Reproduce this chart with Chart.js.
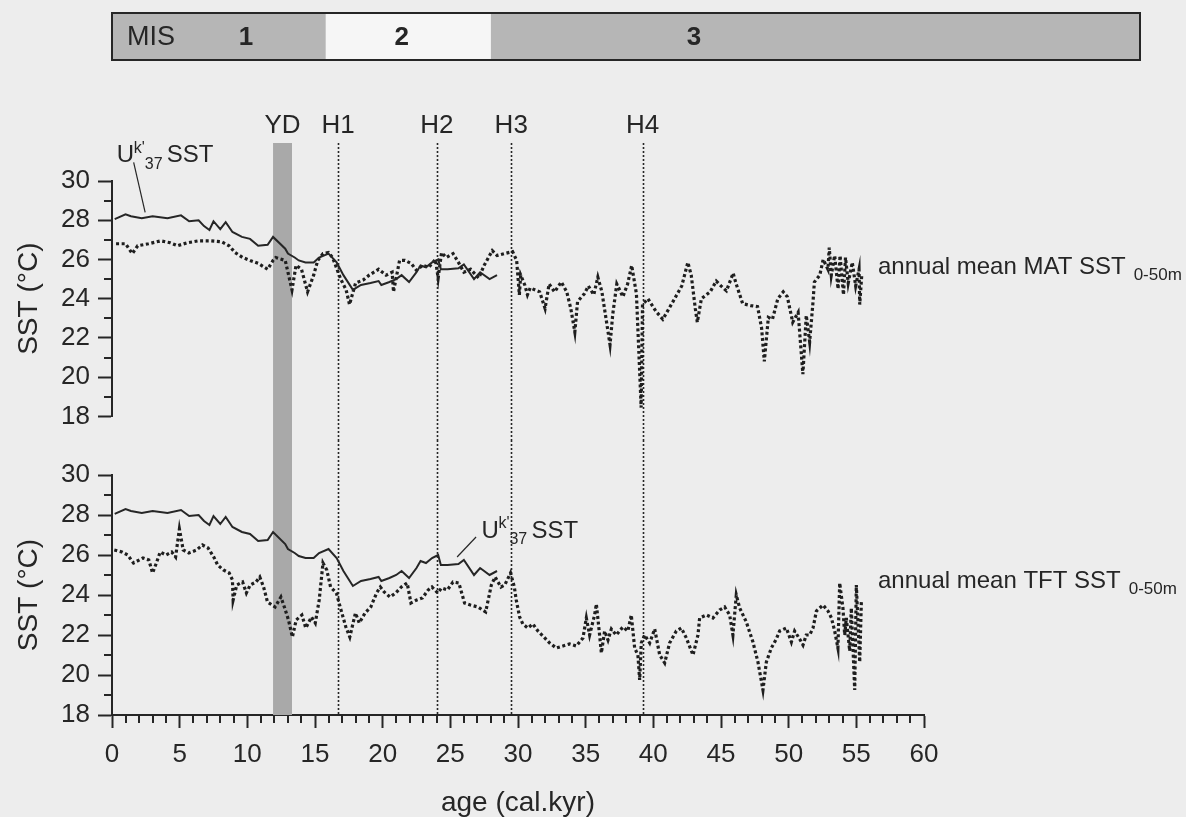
<!DOCTYPE html>
<html>
<head>
<meta charset="utf-8">
<script src="https://cdn.jsdelivr.net/npm/chart.js@4.4.1/dist/chart.umd.min.js"></script>
<style>
  body { margin: 0; background: #ededed; }
  #wrap { position: relative; width: 1186px; height: 817px; background: #ededed; }
  #top { position: absolute; left: 0; top: 0; }
  #bot { position: absolute; left: 0; top: 440px; }
</style>
</head>
<body>
<div id="wrap">
  <canvas id="top" width="1186" height="440"></canvas>
  <canvas id="bot" width="1186" height="377"></canvas>
</div>
<script>
// Uk'37 SST (solid, same record in both panels)
const ukAge = [0.2, 1.0, 1.4, 2.2, 3.0, 4.1, 5.1, 5.7, 6.4, 6.8, 7.2, 7.5, 8.0, 8.4, 8.9, 9.6, 10.2, 10.8, 11.5, 11.9,
  12.8, 13.0, 13.5, 13.8, 14.3, 14.9, 15.3, 16.0, 16.6, 17.1, 17.8, 18.4, 19.1, 19.7, 19.9, 20.5, 21.0, 21.4, 21.95,
  22.5, 22.8, 23.2, 23.65, 24.1, 24.3, 24.8, 25.6, 26.0, 26.75, 27.2, 27.9, 28.45];
const ukSst = [28.06, 28.3, 28.2, 28.1, 28.2, 28.1, 28.25, 27.95, 28.0, 27.7, 27.5, 27.95, 27.55, 27.9, 27.4, 27.15, 27.05, 26.7, 26.75, 27.15,
  26.55, 26.3, 26.1, 25.95, 25.85, 25.85, 26.1, 26.3, 25.85, 25.2, 24.45, 24.7, 24.8, 24.9, 24.7, 24.85, 25.0, 25.2, 24.85,
  25.35, 25.7, 25.6, 25.85, 26.0, 25.5, 25.5, 25.55, 25.75, 25.0, 25.35, 25.0, 25.2];

// annual mean MAT SST 0-50m (dotted, top panel)
const matAge = [0.3, 1.0, 1.5, 1.9, 2.7, 3.6, 4.3, 4.85, 5.55, 6.4, 7.25, 8.1, 8.65, 9.1, 9.65, 10.2, 10.8, 11.5, 11.9, 12.1,
  12.8, 13.0, 13.3, 13.6, 14.0, 14.45, 14.9, 15.2, 15.6, 16.0, 16.3, 16.9, 17.3, 17.55, 18.0, 18.55, 19.0, 19.7, 20.25, 20.7,
  20.8, 21.25, 21.65, 22.1, 22.5, 22.95, 23.4, 23.9, 24.1, 24.35, 24.7, 25.2, 25.6, 26.0, 26.5, 27.1, 27.5, 28.1, 28.45, 29.0,
  29.6, 29.9, 30.1, 30.2, 30.5, 30.7, 30.9, 31.6, 32.0, 32.3, 32.7, 33.2, 33.6, 33.9, 34.2, 34.4, 34.9, 35.2, 35.6, 35.9,
  36.2, 36.8, 37.0, 37.3, 37.75, 38.1, 38.4, 38.75, 39.1, 39.2, 39.6, 40.2, 40.7, 41.45, 42.1, 42.55, 42.8, 43.1, 43.25, 43.55,
  44.2, 44.65, 45.0, 45.4, 45.9, 46.1, 46.6, 47.2, 47.7, 48.0, 48.2, 48.5, 48.8, 49.2, 49.6, 49.9, 50.3, 50.7, 51.05, 51.3,
  51.55, 51.8, 51.9, 52.3, 52.55, 52.9, 53.0, 53.15, 53.4, 53.65, 53.8, 54.05, 54.2, 54.4, 54.7, 54.95, 55.2, 55.25, 55.4];
const matSst = [26.8, 26.8, 26.3, 26.7, 26.8, 26.95, 26.85, 26.7, 26.85, 26.95, 26.95, 26.9, 26.7, 26.35, 26.1, 25.95, 25.8, 25.5, 25.95, 26.1,
  25.95, 25.35, 24.45, 25.7, 25.5, 24.35, 25.2, 25.95, 26.3, 26.35, 26.1, 25.0, 24.45, 23.7, 24.8, 24.95, 25.2, 25.5, 25.2, 25.35,
  24.35, 25.95, 25.95, 25.8, 25.45, 25.7, 25.6, 26.0, 25.05, 26.35, 26.1, 26.3, 25.85, 25.35, 25.5, 25.05, 25.7, 26.45, 26.2, 26.3,
  26.4, 25.95, 24.2, 25.2, 24.7, 24.2, 24.55, 24.35, 23.5, 24.75, 24.35, 24.85, 24.35, 23.5, 22.3, 23.85, 24.25, 24.65, 24.2, 25.1,
  24.35, 21.65, 23.2, 24.75, 24.1, 24.75, 25.7, 24.25, 18.45, 23.7, 24.0, 23.35, 22.95, 23.85, 24.65, 25.85, 25.2, 23.5, 22.8, 24.0,
  24.35, 24.9, 24.65, 24.4, 25.3, 24.8, 23.75, 23.65, 23.6, 22.5, 20.8, 23.05, 22.95, 24.0, 24.35, 24.1, 22.8, 23.3, 20.15, 23.15,
  21.8, 23.85, 24.85, 25.2, 26.0, 25.5, 26.6, 25.2, 26.2, 24.5, 26.2, 24.2, 26.1, 24.8, 25.85, 24.65, 25.5, 23.7, 25.2];

// annual mean TFT SST 0-50m (dotted, bottom panel)
const tftAge = [0.17, 0.74, 1.16, 1.59, 2.29, 2.72, 3.0, 3.28, 3.56, 3.99, 4.41, 4.7, 4.98, 5.26, 5.68, 6.25, 6.68, 7.1, 7.52, 7.81,
  8.23, 8.66, 8.9, 8.95, 9.22, 9.65, 9.93, 10.21, 10.64, 10.92, 11.2, 11.49, 12.05, 12.48, 12.76, 13.04, 13.33, 13.61, 14.03, 14.32,
  14.74, 15.02, 15.31, 15.59, 15.87, 16.15, 16.58, 16.86, 17.28, 17.57, 17.99, 18.27, 18.7, 19.12, 19.55, 19.83, 20.11, 20.54, 20.96, 21.38,
  21.81, 22.09, 22.51, 22.94, 23.36, 23.64, 24.07, 24.35, 24.78, 25.2, 25.63, 26.05, 26.48, 27.04, 27.61, 28.03, 28.31, 28.74, 29.02, 29.45,
  29.73, 29.87, 30.12, 30.36, 30.73, 31.1, 31.47, 31.84, 32.34, 32.83, 33.32, 33.81, 34.31, 34.8, 35.05, 35.29, 35.66, 35.79, 36.03, 36.16,
  36.4, 36.65, 36.9, 37.26, 37.75, 38.12, 38.37, 38.62, 38.86, 38.99, 39.11, 39.36, 39.73, 40.1, 40.47, 40.84, 41.2, 41.7, 42.07, 42.44,
  42.93, 43.3, 43.42, 43.92, 44.4, 44.9, 45.27, 45.64, 45.88, 46.13, 46.38, 46.87, 47.36, 47.73, 48.1, 48.35, 48.72, 49.09, 49.33, 49.83,
  50.2, 50.44, 50.81, 51.06, 51.3, 51.55, 51.8, 52.05, 52.54, 52.91, 53.16, 53.4, 53.64, 53.77, 54.01, 54.14, 54.26, 54.51, 54.63, 54.88,
  55.0, 55.25, 55.37];
const tftSst = [26.25, 26.15, 26.0, 25.6, 25.85, 25.75, 25.1, 25.6, 26.15, 26.0, 26.15, 25.9, 27.3, 26.25, 26.1, 26.25, 26.5, 26.35, 25.9, 25.5,
  25.25, 25.1, 24.75, 23.75, 24.5, 24.65, 24.1, 24.5, 24.65, 24.9, 24.4, 23.65, 23.4, 23.9, 23.35, 22.75, 21.9, 22.75, 23.0, 22.35,
  22.9, 22.6, 23.75, 25.6, 25.25, 24.4, 24.1, 23.4, 22.4, 21.9, 23.1, 22.6, 23.1, 23.4, 24.1, 24.4, 24.15, 23.9, 24.1, 24.4,
  24.6, 23.6, 23.75, 23.85, 24.25, 24.4, 24.1, 24.35, 24.25, 24.65, 24.6, 23.6, 23.5, 23.4, 23.15, 24.5, 24.9, 24.4, 24.5, 25.1,
  24.4, 23.75, 22.9, 22.55, 22.35, 22.55, 22.2, 21.95, 21.6, 21.35, 21.45, 21.55, 21.45, 21.85, 22.85, 22.0, 23.0, 23.55, 22.0, 21.1,
  22.2, 21.75, 22.3, 22.0, 22.4, 22.2, 23.0, 21.35, 21.0, 19.75, 21.6, 22.0, 21.6, 22.3, 21.0, 20.6, 21.6, 22.2, 22.35, 21.85,
  21.0, 22.0, 22.85, 23.0, 22.85, 23.25, 23.4, 23.0, 22.0, 24.0, 23.35, 22.65, 21.65, 20.65, 19.25, 20.65, 21.35, 21.8, 22.2, 22.35,
  21.65, 22.2, 21.8, 21.5, 22.0, 22.0, 22.35, 23.2, 23.5, 23.2, 22.85, 22.2, 21.35, 24.6, 23.35, 22.0, 22.85, 21.2, 23.35, 19.25,
  24.5, 20.65, 23.65];

// axis ticks
const ageTicks = [0, 5, 10, 15, 20, 25, 30, 35, 40, 45, 50, 55, 60];
const sstTicks = [18, 20, 22, 24, 26, 28, 30];

// events and marine isotope stages (ages in kyr)
const eventNames = ['YD', 'H1', 'H2', 'H3', 'H4'];
const eventAges = [12.6, 16.7, 24.0, 29.5, 39.2];
const ydSpan = [11.9, 13.3];
const misNames = ['1', '2', '3'];
const misEdges = [0, 15.8, 28.0];
const misLabelAges = [9.9, 21.4, 43.0];

const FONT = "'Liberation Sans', Arial, Helvetica, sans-serif";
const INK = '#262626';
const BAR_RIGHT = 1140; // the stage bar runs on past the plot, over the series labels

const pts = (xs, ys) => xs.map((a, i) => ({x: a, y: ys[i]}));

function drawUk(ctx, x, y) {
  ctx.fillStyle = INK;
  ctx.textAlign = 'left';
  ctx.textBaseline = 'middle';
  ctx.font = '24px ' + FONT;
  ctx.fillText('U', x, y);
  ctx.font = '16px ' + FONT;
  ctx.fillText("k'", x + 17, y - 7);
  ctx.fillText('37', x + 28, y + 9);
  ctx.font = '24px ' + FONT;
  ctx.fillText('SST', x + 50, y);
}

function drawSeriesLabel(ctx, x, y, text) {
  ctx.fillStyle = INK;
  ctx.textAlign = 'left';
  ctx.textBaseline = 'middle';
  ctx.font = '24px ' + FONT;
  ctx.fillText(text, x, y);
  const w = ctx.measureText(text).width;
  ctx.font = '17px ' + FONT;
  ctx.fillText('0-50m', x + w + 8, y + 8);
}

// minor ticks every 1 unit (major ones come from chart.js)
const minorTicks = {
  id: 'minorTicks',
  afterDraw(chart) {
    const ctx = chart.ctx, y = chart.scales.y, x = chart.scales.x;
    ctx.save();
    ctx.strokeStyle = INK;
    ctx.lineWidth = 2;
    for (let v = y.min + 1; v < y.max; v += 2) {
      const p = Math.round(y.getPixelForValue(v));
      ctx.beginPath(); ctx.moveTo(y.right, p); ctx.lineTo(y.right - 8, p); ctx.stroke();
    }
    if (x.options.display) {
      for (let v = x.min + 1; v < x.max; v++) {
        if (v % 5 === 0) continue;
        const p = Math.round(x.getPixelForValue(v));
        ctx.beginPath(); ctx.moveTo(p, x.top); ctx.lineTo(p, x.top + 8); ctx.stroke();
      }
    }
    ctx.restore();
  }
};

// YD band, Heinrich lines, MIS bar and text labels
const marks = {
  id: 'marks',
  beforeDatasetsDraw(chart, args, o) {
    const {ctx, chartArea} = chart;
    const x = chart.scales.x;
    const y0 = o.lineTop;
    const y1 = o.toAxis ? chartArea.bottom : chart.height;
    ctx.save();
    const a = x.getPixelForValue(ydSpan[0]), b = x.getPixelForValue(ydSpan[1]);
    ctx.fillStyle = '#a9a9a9';
    ctx.fillRect(a, y0, b - a, y1 - y0);
    ctx.strokeStyle = INK;
    ctx.lineWidth = 1.6;
    ctx.setLineDash([2, 2]);
    eventAges.slice(1).forEach(age => {
      const p = Math.round(x.getPixelForValue(age)) + 0.5;
      ctx.beginPath(); ctx.moveTo(p, y0); ctx.lineTo(p, y1); ctx.stroke();
    });
    ctx.restore();
  },
  afterDraw(chart, args, o) {
    const ctx = chart.ctx;
    const x = chart.scales.x, y = chart.scales.y;
    ctx.save();
    if (o.header) {
      // MIS bar
      const top = 13, h = 47;
      const edges = misEdges.map(v => x.getPixelForValue(v)).concat(BAR_RIGHT);
      misNames.forEach((n, i) => {
        ctx.fillStyle = i === 1 ? '#f6f6f6' : '#b6b6b6';
        ctx.fillRect(edges[i], top, edges[i + 1] - edges[i], h);
      });
      ctx.strokeStyle = INK;
      ctx.lineWidth = 2;
      ctx.strokeRect(edges[0], top, BAR_RIGHT - edges[0], h);
      ctx.fillStyle = INK;
      ctx.textBaseline = 'middle';
      ctx.textAlign = 'left';
      ctx.font = '27px ' + FONT;
      ctx.fillText('MIS', edges[0] + 15, top + h / 2 + 1);
      ctx.textAlign = 'center';
      ctx.font = 'bold 26px ' + FONT;
      misNames.forEach((n, i) => ctx.fillText(n, x.getPixelForValue(misLabelAges[i]), top + h / 2 + 1));
      // event labels
      ctx.font = '26px ' + FONT;
      eventNames.forEach((n, i) => ctx.fillText(n, x.getPixelForValue(eventAges[i]), 126));
    }
    // Uk'37 label and leader line
    const L = o.uk;
    ctx.strokeStyle = INK;
    ctx.lineWidth = 1.2;
    ctx.beginPath();
    ctx.moveTo(x.getPixelForValue(L.from[0]), y.getPixelForValue(L.from[1]));
    ctx.lineTo(x.getPixelForValue(L.to[0]), y.getPixelForValue(L.to[1]));
    ctx.stroke();
    drawUk(ctx, x.getPixelForValue(L.at[0]), y.getPixelForValue(L.at[1]));
    drawSeriesLabel(ctx, x.getPixelForValue(o.name.at[0]), y.getPixelForValue(o.name.at[1]), o.name.text);
    ctx.restore();
  }
};

function yScale() {
  return {
    min: 18, max: 30,
    afterFit(s) { s.width = 112; },
    afterBuildTicks(s) { s.ticks = sstTicks.map(v => ({value: v})); },
    ticks: {color: INK, font: {family: FONT, size: 26}, padding: 8},
    grid: {drawOnChartArea: false, tickLength: 14, tickWidth: 2, tickColor: INK},
    border: {width: 2, color: INK},
    title: {display: true, text: 'SST (°C)', color: INK, font: {family: FONT, size: 28}, padding: {top: 12}}
  };
}

function lineSets(dotted) {
  return [
    {data: pts(ukAge, ukSst), borderColor: INK, borderWidth: 2, pointRadius: 0, tension: 0},
    {data: dotted, borderColor: '#1e1e1e', borderWidth: 3.2, borderDash: [3, 2.6], borderCapStyle: 'butt',
      pointRadius: 0, tension: 0}
  ];
}

new Chart(document.getElementById('top'), {
  type: 'line',
  data: {datasets: lineSets(pts(matAge, matSst))},
  options: {
    responsive: false, animation: false,
    layout: {padding: {left: 0, right: 262, top: 181, bottom: 23}},
    plugins: {
      legend: {display: false}, tooltip: {enabled: false},
      marks: {
        header: true, lineTop: 143, toAxis: false,
        uk: {at: [0.35, 31.3], from: [1.6, 30.95], to: [2.45, 28.4]},
        name: {at: [56.6, 25.6], text: 'annual mean MAT SST'}
      }
    },
    scales: {
      x: {type: 'linear', min: 0, max: 60, display: false},
      y: yScale()
    }
  },
  plugins: [marks, minorTicks]
});

new Chart(document.getElementById('bot'), {
  type: 'line',
  data: {datasets: lineSets(pts(tftAge, tftSst))},
  options: {
    responsive: false, animation: false,
    layout: {padding: {left: 0, right: 262, top: 35, bottom: 0}},
    plugins: {
      legend: {display: false}, tooltip: {enabled: false},
      marks: {
        header: false, lineTop: 0, toAxis: true,
        uk: {at: [27.3, 27.2], from: [26.9, 26.9], to: [25.5, 25.9]},
        name: {at: [56.6, 24.7], text: 'annual mean TFT SST'}
      }
    },
    scales: {
      x: {
        type: 'linear', min: 0, max: 60,
        afterFit(s) { s.height = 102; },
        afterBuildTicks(s) { s.ticks = ageTicks.map(v => ({value: v})); },
        ticks: {color: INK, font: {family: FONT, size: 26}, padding: 11, maxRotation: 0},
        grid: {drawOnChartArea: false, tickLength: 13, tickWidth: 2, tickColor: INK},
        border: {width: 2, color: INK},
        title: {display: true, text: 'age (cal.kyr)', color: INK, font: {family: FONT, size: 28, lineHeight: 1}, padding: {top: 0, bottom: 0}}
      },
      y: yScale()
    }
  },
  plugins: [marks, minorTicks]
});
</script>
</body>
</html>
